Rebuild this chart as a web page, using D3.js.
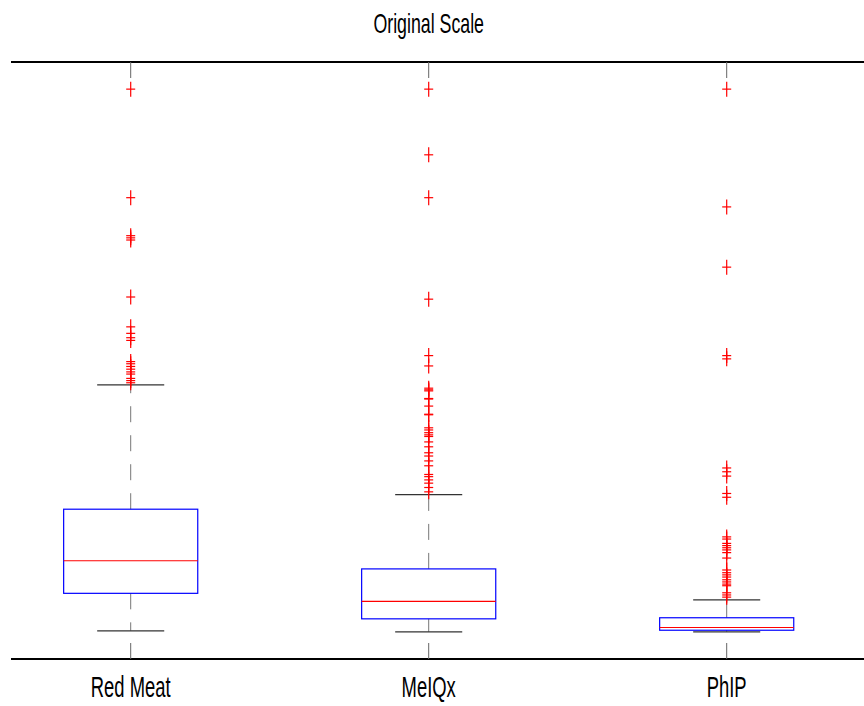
<!DOCTYPE html>
<html>
<head>
<meta charset="utf-8">
<script src="https://cdn.jsdelivr.net/npm/d3@7"></script>
<style>
  body { margin: 0; background: #fff; }
  svg { display: block; }
  text { font-family: "Liberation Sans", Arial, Helvetica, sans-serif; fill: #000; }
</style>
</head>
<body>
<svg width="864" height="706"></svg>
<script>
// ---- data (values normalised, max = 1) ----
const groups = ["Red Meat", "MeIQx", "PhIP"];
const q1 = [0.071, 0.024, 0.003];
const median = [0.131, 0.056, 0.008];
const q3 = [0.226, 0.116, 0.026];
const whiskerLo = [0.002, 0.000, 0.000];
const whiskerHi = [0.455, 0.253, 0.059];

const outliersRedMeat = [1.0, 0.800, 0.730, 0.726, 0.722, 0.617, 0.562, 0.550, 0.542, 0.537,
  0.498, 0.494, 0.489, 0.484, 0.479, 0.475, 0.467, 0.463, 0.459];
const outliersMeIQx = [1.0, 0.879, 0.800, 0.613, 0.509, 0.490, 0.449, 0.446, 0.444, 0.430, 0.429,
  0.416, 0.401, 0.400, 0.376, 0.372, 0.367, 0.363, 0.360, 0.350, 0.341, 0.330, 0.324,
  0.315, 0.306, 0.290, 0.286, 0.280, 0.274, 0.266, 0.258];
const outliersPhIP = [1.0, 0.783, 0.672, 0.509, 0.503, 0.302, 0.295, 0.287, 0.255, 0.248,
  0.175, 0.171, 0.163, 0.159, 0.155, 0.151, 0.146, 0.136, 0.114, 0.109, 0.105, 0.101,
  0.096, 0.092, 0.088, 0.085, 0.072, 0.068, 0.064];
const outliers = [outliersRedMeat, outliersMeIQx, outliersPhIP];

const chartTitle = "Original Scale";

// ---- layout ----
const svg = d3.select("svg");
const plotLeft = 11, plotRight = 864, plotTop = 62, plotBottom = 659;
const squeeze = 0.635;   // figure is horizontally squashed
const boxHalf = 0.225, capHalf = 0.1125;

const x = d3.scaleLinear().domain([1, 3]).range([130.7, 726.7]);
const y = d3.scaleLinear().domain([-0.05, 1.05]).range([plotBottom, plotTop]);

const stats = groups.map((g, i) => ({
  name: g, pos: i + 1,
  q1: q1[i], med: median[i], q3: q3[i], lo: whiskerLo[i], hi: whiskerHi[i],
  out: outliers[i]
}));

// axes frame (top and bottom lines)
svg.append("line").attr("x1", plotLeft).attr("x2", plotRight).attr("y1", plotTop).attr("y2", plotTop)
  .attr("stroke", "#000").attr("stroke-width", 1.8);
svg.append("line").attr("x1", plotLeft).attr("x2", plotRight).attr("y1", plotBottom).attr("y2", plotBottom)
  .attr("stroke", "#000").attr("stroke-width", 1.8);

// ticks
const ticks = svg.append("g").attr("stroke", "#666").attr("stroke-width", 1);
stats.forEach(d => {
  ticks.append("line").attr("x1", x(d.pos)).attr("x2", x(d.pos)).attr("y1", plotTop).attr("y2", plotTop + 16);
  ticks.append("line").attr("x1", x(d.pos)).attr("x2", x(d.pos)).attr("y1", plotBottom).attr("y2", plotBottom - 16);
});

const box = svg.selectAll(".box").data(stats).enter().append("g").attr("class", "box");

// dashed whiskers, drawn from the box outwards
box.append("line")
  .attr("x1", d => x(d.pos)).attr("x2", d => x(d.pos))
  .attr("y1", d => y(d.q3)).attr("y2", d => y(d.hi))
  .attr("stroke", "#777").attr("stroke-dasharray", "16,13");
box.append("line")
  .attr("x1", d => x(d.pos)).attr("x2", d => x(d.pos))
  .attr("y1", d => y(d.q1)).attr("y2", d => y(d.lo))
  .attr("stroke", "#777").attr("stroke-dasharray", "16,13");

// whisker caps
["hi", "lo"].forEach(k => {
  box.append("line")
    .attr("x1", d => x(d.pos - capHalf)).attr("x2", d => x(d.pos + capHalf))
    .attr("y1", d => y(d[k])).attr("y2", d => y(d[k]))
    .attr("stroke", "#333").attr("stroke-width", 1.2);
});

// box
box.append("rect")
  .attr("x", d => x(d.pos - boxHalf))
  .attr("width", d => x(d.pos + boxHalf) - x(d.pos - boxHalf))
  .attr("y", d => y(d.q3))
  .attr("height", d => y(d.q1) - y(d.q3))
  .attr("fill", "none").attr("stroke", "#0000ff").attr("stroke-width", 1.2);

// median
box.append("line")
  .attr("x1", d => x(d.pos - boxHalf)).attr("x2", d => x(d.pos + boxHalf))
  .attr("y1", d => y(d.med)).attr("y2", d => y(d.med))
  .attr("stroke", "#ff0000").attr("stroke-width", 1.2);

// outliers as red "+"
box.each(function(d) {
  const g = d3.select(this).append("g").attr("stroke", "#ff0000").attr("stroke-width", 1.2);
  d.out.forEach(v => {
    const cx = x(d.pos), cy = y(v);
    g.append("line").attr("x1", cx - 4.5).attr("x2", cx + 4.5).attr("y1", cy).attr("y2", cy);
    g.append("line").attr("x1", cx).attr("x2", cx).attr("y1", cy - 7.5).attr("y2", cy + 7.5);
  });
});

// category labels
svg.selectAll(".label").data(stats).enter().append("text")
  .attr("class", "label")
  .attr("transform", d => `translate(${x(d.pos)},696.5) scale(${squeeze},1)`)
  .attr("text-anchor", "middle")
  .style("font-size", "29px")
  .text(d => d.name);

// title
svg.append("text")
  .attr("transform", `translate(${x(2)},33.3) scale(${squeeze},1)`)
  .attr("text-anchor", "middle")
  .style("font-size", "28px")
  .text(chartTitle);
</script>
</body>
</html>
